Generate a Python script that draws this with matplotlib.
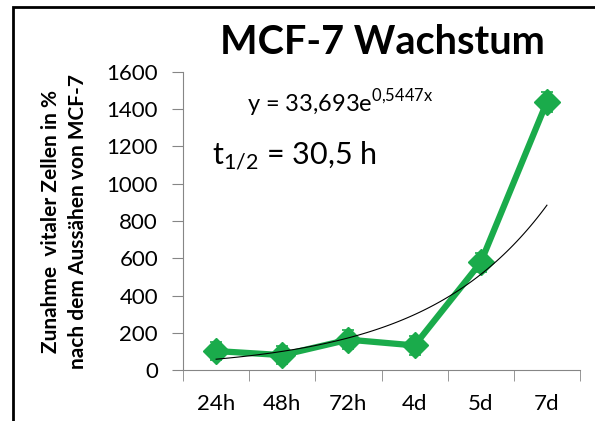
import numpy as np
import matplotlib.pyplot as plt
from matplotlib.patches import Rectangle

plt.rcParams['font.family'] = ['Lato', 'DejaVu Sans']
plt.rcParams['mathtext.fontset'] = 'custom'
plt.rcParams['mathtext.rm'] = 'Lato'

# data
categories = ['24h', '48h', '72h', '4d', '5d', '7d']
growth = [102, 80, 163, 132, 578, 1440]
errors = [48, 50, 52, 52, 52, 55]

# trendline given in the chart: y = 33,693 e^(0,5447 x)
fit_a = 33.693
fit_b = 0.5447

green = '#1aab4b'
axis_grey = '#868686'

fig = plt.figure(figsize=(5.95, 4.21), dpi=100)
ax = fig.add_axes([0.3076, 0.1211, 0.6672, 0.7079])

x = np.arange(1, len(categories) + 1)
ax.errorbar(x, growth, yerr=errors, color=green, lw=4.5, marker='D', ms=13,
            ecolor=green, elinewidth=1.2, capsize=4, capthick=1.2, zorder=3)

xt = np.linspace(1, 6, 100)
ax.plot(xt, fit_a * np.exp(fit_b * xt), color='black', lw=0.8, zorder=4)

ax.set_xlim(0.5, 6.5)
ax.set_ylim(0, 1600)
ax.set_yticks(np.arange(0, 1601, 200))
ax.set_xticks(x)
ax.set_xticklabels(categories)
ax.set_xticks(np.arange(0.5, 6.6, 1), minor=True)
ax.tick_params(axis='x', which='major', length=0, pad=17, labelsize=16)
ax.tick_params(axis='x', which='minor', length=8, color=axis_grey)
ax.tick_params(axis='y', length=8, color=axis_grey, labelsize=16, pad=10)
for s in ['top', 'right']:
    ax.spines[s].set_visible(False)
for s in ['left', 'bottom']:
    ax.spines[s].set_color(axis_grey)

ax.set_ylabel('Zunahme  vitaler Zellen in %\nnach dem Aussähen von MCF-7',
              fontsize=15, fontweight='bold', labelpad=13, linespacing=1.45)

fig.text(0.643, 0.898, 'MCF-7 Wachstum', fontsize=28.5, fontweight='bold',
         ha='center', va='center')
fig.text(0.415, 0.755, r'y = 33,693e$^{\mathrm{0{,}5447x}}$', fontsize=17,
         ha='left', va='center')
fig.text(0.356, 0.632, r't$_{\mathrm{1/2}}$ = 30,5 h', fontsize=22,
         ha='left', va='center')

# border of the chart area
fig.patches.append(Rectangle((0.022, -0.1), 1.2, 1.083, transform=fig.transFigure,
                             fill=False, ec='black', lw=2))

fig.savefig('out.png', dpi=100)
